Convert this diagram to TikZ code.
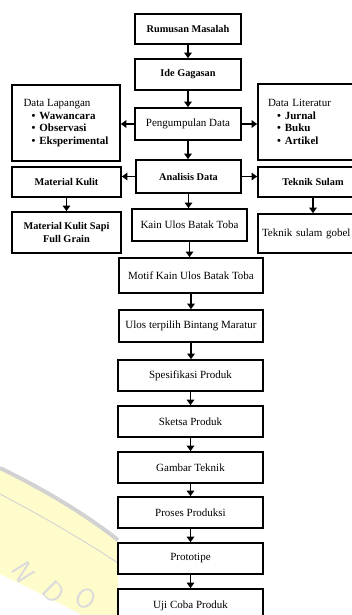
\documentclass[tikz,border=0pt]{standalone}
\usepackage{fontspec}
\setmainfont{Liberation Serif}
\usetikzlibrary{arrows.meta}
\begin{document}
\begin{tikzpicture}[x=1pt,y=-1pt,
  box/.style={draw, line width=1.7pt, inner sep=2pt, align=center, font=\fontsize{11}{13.5}\selectfont},
  bbox/.style={box, font=\fontsize{10.3}{13}\selectfont\bfseries},
  arr/.style={line width=1.8pt, -{Triangle[width=7.5pt,length=5.5pt]}},
  wm/.style={text=gray!28, font=\fontsize{28}{28}\selectfont\sffamily},
]
\useasboundingbox (0,0) rectangle (352,615);
% watermark
\fill[yellow!20] (0,470) .. controls (45,492) and (85,516) .. (118,541) -- (118,615) -- (82,615) .. controls (50,598) and (25,586) .. (0,574) -- cycle;
\draw[gray!35, line width=4pt] (0,468) .. controls (45,490) and (85,514) .. (118,540);
\draw[gray!35, line width=0.9pt] (0,494) .. controls (40,515) and (80,538) .. (118,563);
\node[wm, rotate=-58] (wn) at (24,572) {N};
\node[wm, rotate=-45] (wd) at (54,592) {D};
\node[wm, rotate=-33] (wo) at (86,599) {O};
% boxes
\node[bbox, minimum width=106pt, minimum height=30pt] (rm) at (188,29) {Rumusan Masalah};
\node[bbox, minimum width=106pt, minimum height=31pt] (ide) at (188,74.5) {Ide Gagasan};
\node[box, minimum width=106pt, minimum height=32pt] (pd) at (188,124) {Pengumpulan Data};
\node[box, minimum width=108pt, minimum height=76pt, align=left] (dl) at (66,123)
  {Data Lapangan\\[-1pt]\hspace*{8pt}{\bfseries\textbullet\hspace{4pt}Wawancara}\\[-1pt]\hspace*{8pt}{\bfseries\textbullet\hspace{4pt}Observasi}\\[-1pt]\hspace*{8pt}{\bfseries\textbullet\hspace{4pt}Eksperimental}};
\node[box, minimum width=110pt, minimum height=76pt, text width=90pt, inner xsep=10pt, align=left] (dlit) at (313,122)
  {Data Literatur\\[-1pt]\hspace*{9pt}{\bfseries\textbullet\hspace{4pt}Jurnal}\\[-1pt]\hspace*{9pt}{\bfseries\textbullet\hspace{4pt}Buku}\\[-1pt]\hspace*{9pt}{\bfseries\textbullet\hspace{4pt}Artikel}};
\node[bbox, minimum width=105pt, minimum height=33pt] (ad) at (188.5,176.5) {Analisis Data};
\node[bbox, minimum width=109pt, minimum height=30pt] (mk) at (66.5,182) {Material Kulit};
\node[bbox, minimum width=110pt, minimum height=30pt] (ts) at (313,182) {Teknik Sulam};
\node[bbox, minimum width=109pt, minimum height=41pt] (mks) at (66.5,232.5) {Material Kulit Sapi\\Full Grain};
\node[box, minimum width=115pt, minimum height=32pt] (kain) at (189.5,225) {Kain Ulos Batak Toba};
\node[box, minimum width=110pt, minimum height=39pt, text width=102pt, inner xsep=4pt, align=left] (tsg) at (313,233.5) {Teknik sulam gobel};
\node[box, minimum width=144pt, minimum height=35pt] (motif) at (191,275.5) {Motif Kain Ulos Batak Toba};
\node[box, minimum width=144pt, minimum height=32pt] (ulos) at (191,326) {Ulos terpilih Bintang Maratur};
\node[box, minimum width=145pt, minimum height=31pt] (spes) at (190.5,375.5) {Spesifikasi Produk};
\node[box, minimum width=145pt, minimum height=31pt] (sketsa) at (190.5,421.5) {Sketsa Produk};
\node[box, minimum width=145pt, minimum height=31pt] (gambar) at (190.5,467.5) {Gambar Teknik};
\node[box, minimum width=145pt, minimum height=31pt] (proses) at (190.5,512.5) {Proses Produksi};
\node[box, minimum width=145pt, minimum height=31pt] (proto) at (190.5,558.5) {Prototipe};
\node[box, minimum width=145pt, minimum height=33pt] (uji) at (190.5,605.5) {Uji Coba Produk};
% connectors
\draw[arr] (rm) -- (ide);
\draw[arr] (ide) -- (pd);
\draw[arr] (pd.west) -- (pd.west -| dl.east);
\draw[arr] (pd.east) -- (pd.east -| dlit.west);
\draw[arr] (pd) -- (pd.south |- ad.north);
\draw[arr] (ad.west) -- (ad.west -| mk.east);
\draw[arr] (ad.east) -- (ad.east -| ts.west);
\draw[arr] (ad) -- (ad.south |- kain.north);
\draw[arr] (mk) -- (mks);
\draw[arr] (ts) -- (tsg);
\draw[arr] (kain) -- (kain.south |- motif.north);
\draw[arr] (motif) -- (motif.south |- ulos.north);
\draw[arr] (ulos) -- (ulos.south |- spes.north);
\draw[arr] (spes) -- (sketsa);
\draw[arr] (sketsa) -- (gambar);
\draw[arr] (gambar) -- (proses);
\draw[arr] (proses) -- (proto);
\draw[arr] (proto) -- (uji);
\end{tikzpicture}
\end{document}
